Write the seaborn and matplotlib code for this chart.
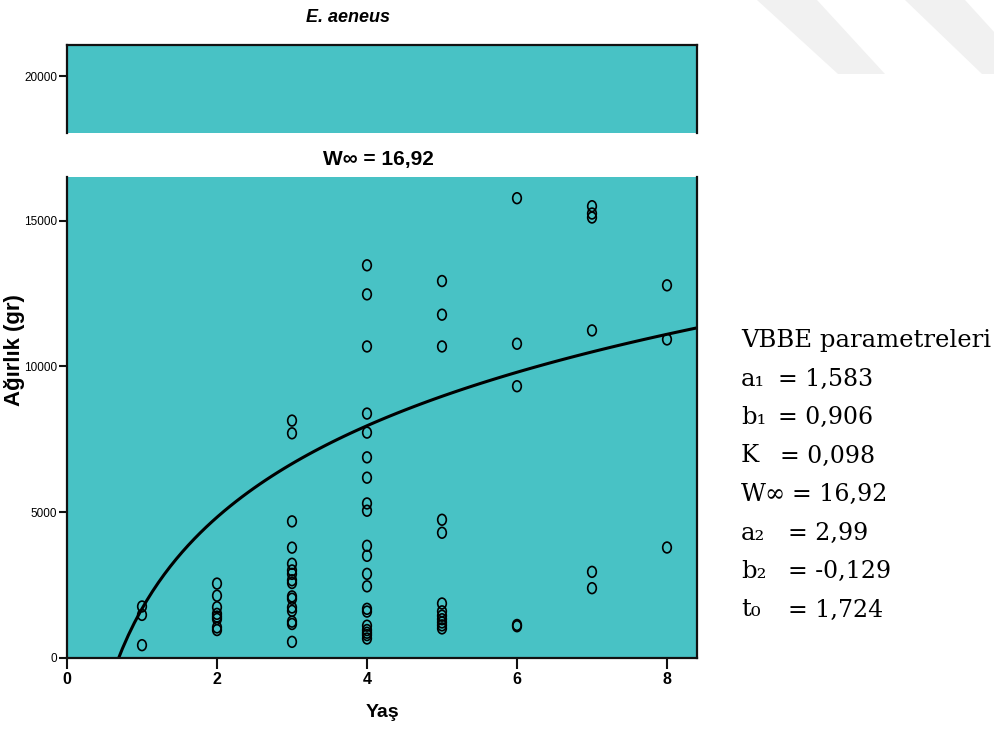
import numpy as np
import pandas as pd
import seaborn as sns
import matplotlib.pyplot as plt
from matplotlib.path import Path
from matplotlib.patches import Polygon

# Datos (peso en gr por edad)
edades = [1, 2, 3, 4, 5, 6, 7, 8]
pesos_1 = [1767, 1479, 440]
pesos_2 = [2553, 2137, 1742, 1514, 1420, 1340, 1050, 959]
pesos_3 = [8144, 7708, 4687, 3786, 3232, 3003, 2886, 2667, 2574, 2113, 2033,
           1732, 1618, 1247, 1167, 554]
pesos_4 = [13471, 12474, 10687, 8385, 7732, 6883, 6186, 5302, 5052, 3849, 3505,
           2886, 2459, 1687, 1593, 1108, 959, 866, 786, 669]
pesos_5 = [12931, 11777, 10687, 4742, 4296, 1870, 1600, 1450, 1330, 1220, 1120, 1015]
pesos_6 = [15773, 10780, 9323, 1133, 1090]
pesos_7 = [15498, 15247, 15110, 11237, 2955, 2395]
pesos_8 = [12784, 10928, 3790]

curva_x = [1, 1.5, 2, 3, 4, 5, 6, 7, 8, 8.4]
curva_y = [1787, 3447, 4821, 6622, 7973, 8945, 9804, 10515, 11124, 11350]

parametros = ["a\u2081", "b\u2081", "K", "W\u221e", "a\u2082", "b\u2082", "t\u2080"]
valores = ["= 1,583", "= 0,906", "= 0,098", "= 16,92", "= 2,99", "= -0,129", "= 1,724"]

titulo = "E. aeneus"
subtitulo = "W\u221e = 16,92"

grupos = [pesos_1, pesos_2, pesos_3, pesos_4, pesos_5, pesos_6, pesos_7, pesos_8]
df = pd.DataFrame({
    "Yaş": np.repeat(edades, [len(g) for g in grupos]),
    "Ağırlık": np.concatenate(grupos),
})
df_curva = pd.DataFrame({"x": curva_x, "y": curva_y})

sns.set_theme(style="white")
plt.rcParams["font.family"] = ["Liberation Sans", "DejaVu Sans"]
plt.rcParams["text.color"] = "black"
plt.rcParams["axes.labelcolor"] = "black"
plt.rcParams["xtick.color"] = "black"
plt.rcParams["ytick.color"] = "black"

turquesa = "#48C2C5"
W, H = 995, 733
fig = plt.figure(figsize=(9.95, 7.33), dpi=100)

def px(x0, y0, x1, y1):
    return [x0 / W, 1 - y1 / H, (x1 - x0) / W, (y1 - y0) / H]

ax_top = fig.add_axes(px(67, 45, 697, 133))
ax = fig.add_axes(px(67, 177, 697, 658))

for a in (ax_top, ax):
    a.set_facecolor(turquesa)
    a.set_xlim(0, 8.4)
    for s in a.spines.values():
        s.set_color("#111111")
        s.set_linewidth(1.6)
    a.tick_params(axis="both", direction="out", length=6, width=1.5, color="#111111",
                  labelsize=8.5, pad=1, left=True, bottom=True)

# panel superior (eje cortado)
ax_top.set_ylim(18040, 21070)
ax_top.set_yticks([20000])
ax_top.set_xticks([])
ax_top.spines["bottom"].set_visible(False)

# elipse para los puntos
circ = Path.unit_circle()
elipse = Path(circ.vertices * np.array([0.8, 1.0]), circ.codes)

sns.scatterplot(data=df, x="Yaş", y="Ağırlık", ax=ax, marker=elipse, s=60,
                facecolor="none", edgecolor="black", linewidth=1.2, zorder=3)

ax.set_xlim(0.5, 8.4)
sns.regplot(data=df_curva, x="x", y="y", ax=ax, logx=True, scatter=False, ci=None,
            truncate=False, line_kws={"color": "black", "linewidth": 2.2})

ax.set_xlim(0, 8.4)
ax.set_ylim(0, 16500)
ax.spines["top"].set_visible(False)
ax.set_xticks([0, 2, 4, 6, 8])
ax.set_yticks([0, 5000, 10000, 15000])
ax.tick_params(axis="x", length=8, labelsize=11.5, pad=2)
for t in ax.get_xticklabels():
    t.set_fontweight("bold")
ax.set_xlabel("Yaş", fontsize=14, fontweight="bold", labelpad=12)
ax.set_ylabel("Ağırlık (gr)", fontsize=16, fontweight="bold")
ax.yaxis.set_label_coords(-0.066, 0.64)

fig.text(348 / W, 1 - 18 / H, titulo, ha="center", va="center", fontsize=13,
         fontweight="bold", style="italic")
fig.text(378 / W, 1 - 160 / H, subtitulo, ha="center", va="center", fontsize=15,
         fontweight="bold")

# bloque de parametros a la derecha
serif = ["DejaVu Serif"]
fig.text(741 / W, 1 - 340 / H, "VBBE parametreleri", ha="left", va="center",
         fontsize=17.5, family=serif)
pos_igual = [778, 778, 780, 792, 788, 788, 788]
for i, (p, v) in enumerate(zip(parametros, valores)):
    y = 1 - (379 + i * 38.5) / H
    fig.text(741 / W, y, p, ha="left", va="center", fontsize=17.5, family=serif)
    fig.text(pos_igual[i] / W, y, v, ha="left", va="center", fontsize=17, family=serif)

# marcas de agua grises arriba a la derecha
for poly in ([(757, 0), (817, 0), (885, 74), (838, 74)],
             [(905, 0), (965, 0), (995, 33), (995, 74), (982, 74)]):
    fig.patches.append(Polygon([(x / W, 1 - y / H) for x, y in poly], closed=True,
                               transform=fig.transFigure, facecolor="#F1F1F1",
                               edgecolor="none", zorder=0))

fig.savefig("out.png", dpi=100)
plt.close(fig)
